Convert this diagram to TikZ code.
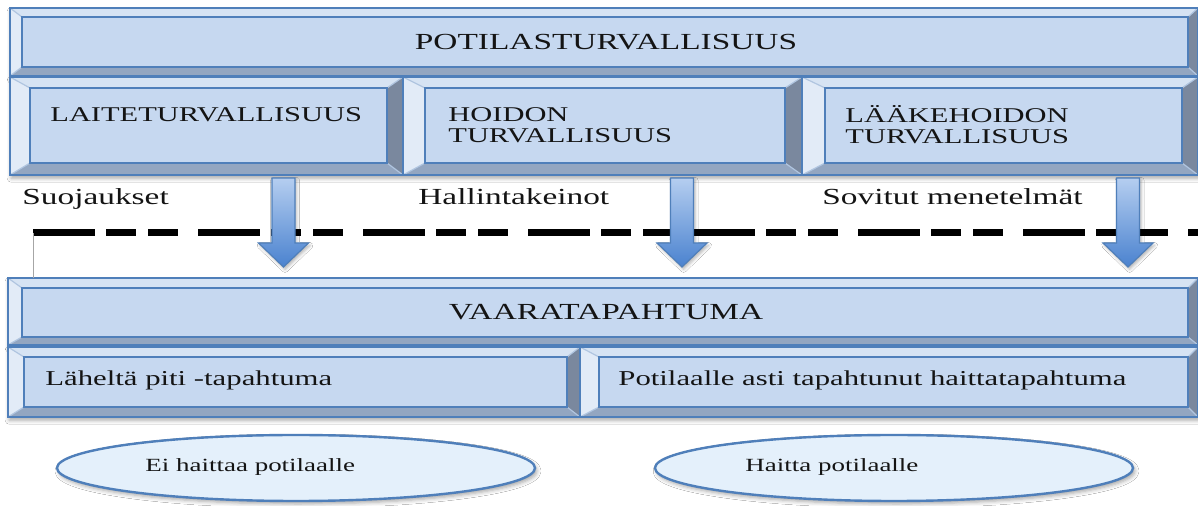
\documentclass[tikz,border=0pt]{standalone}
\usepackage{fontspec}
\setmainfont{Liberation Serif}[FakeStretch=1.45]
\usetikzlibrary{shapes.geometric,shadows.blur}
\definecolor{bvline}{HTML}{4F7FBA}
\definecolor{bvface}{HTML}{C6D8F0}
\definecolor{bvtop}{HTML}{D6E3F3}
\definecolor{bvleft}{HTML}{E2EBF7}
\definecolor{bvbot}{HTML}{93A6C1}
\definecolor{bvright}{HTML}{7A889E}
\definecolor{arrtop}{HTML}{B5CEF0}
\definecolor{arrbot}{HTML}{4A82CF}
\definecolor{ellfill}{HTML}{E4F0FB}
\definecolor{txt}{HTML}{141414}
\newcommand{\bevelshadow}[4]{%
  \path[fill=bvface,blur shadow={shadow xshift=0.6pt,shadow yshift=-1.6pt,shadow blur radius=2pt,shadow opacity=35}] (#1,#2) rectangle (#3,#4);
}
\newcommand{\bevelbox}[8]{%
  \fill[bvface] (#1+#5,#2+#6) rectangle (#3-#7,#4-#8);
  \fill[bvtop] (#1,#2) -- (#3,#2) -- (#3-#7,#2+#6) -- (#1+#5,#2+#6) -- cycle;
  \fill[bvbot] (#1,#4) -- (#3,#4) -- (#3-#7,#4-#8) -- (#1+#5,#4-#8) -- cycle;
  \fill[bvleft] (#1,#2) -- (#1+#5,#2+#6) -- (#1+#5,#4-#8) -- (#1,#4) -- cycle;
  \fill[bvright] (#3,#2) -- (#3-#7,#2+#6) -- (#3-#7,#4-#8) -- (#3,#4) -- cycle;
  \draw[white!55!bvline,line width=0.6pt] (#1,#2) -- (#1+#5,#2+#6) (#3,#2) -- (#3-#7,#2+#6)
     (#1,#4) -- (#1+#5,#4-#8) (#3,#4) -- (#3-#7,#4-#8);
  \draw[bvline,line width=1.3pt] (#1,#2) rectangle (#3,#4);
  \draw[bvline,line width=1.3pt] (#1+#5,#2+#6) rectangle (#3-#7,#4-#8);
}
\newcommand{\blockarrow}[2]{%
  \shade[top color=arrtop,bottom color=arrbot,draw=bvline,line width=0.6pt,
    blur shadow={shadow xshift=0.8pt,shadow yshift=-1.2pt,shadow blur radius=1.5pt,shadow opacity=30}]
    (#1-11.5,178) -- (#1+11.5,178) -- (#1+11.5,243) -- (#1+25,243) -- (#1,267)
    -- (#1-25,243) -- (#1-11.5,243) -- cycle;
  \coordinate (#2) at (#1,267);
}
\tikzset{
  txtbase/.style={inner sep=0pt,text=txt},
  title/.style={txtbase,font=\fontsize{11.5}{13}\selectfont,anchor=base},
  capt/.style={txtbase,font=\fontsize{10.5}{12}\selectfont,anchor=base west},
  lab/.style={txtbase,font=\fontsize{11.5}{13}\selectfont,anchor=base west},
  rowt/.style={txtbase,font=\fontsize{10.6}{13}\selectfont,anchor=base west},
  ell/.style={ellipse,draw=bvline,line width=1.2pt,fill=ellfill,minimum width=239pt,minimum height=33pt,
    blur shadow={shadow xshift=1pt,shadow yshift=-1.5pt,shadow blur radius=2pt,shadow opacity=35}},
  ellt/.style={txtbase,font=\fontsize{9.3}{11}\selectfont,anchor=base west},
}
\begin{document}
\begin{tikzpicture}[x=0.5pt,y=-0.5pt]
\useasboundingbox[fill=white] (0,0) rectangle (1198,506);
% shadows first
\bevelshadow{10}{8}{1198}{76}
\bevelshadow{10}{77}{1198}{175}
\bevelshadow{8}{278}{1198}{345}
\bevelshadow{8}{347}{1198}{417}
% top bar and three boxes
\bevelbox{10}{8}{1198}{76}{12}{9}{10}{9}
\bevelbox{10}{77}{403}{175}{20}{11}{16}{12}
\bevelbox{403}{77}{802}{175}{22}{11}{17}{12}
\bevelbox{802}{77}{1198}{175}{23}{11}{16}{12}
% lower bar and two boxes
\bevelbox{8}{278}{1198}{345}{14}{10}{10}{8}
\bevelbox{8}{347}{580}{417}{16}{10}{13}{10}
\bevelbox{580}{347}{1198}{417}{19}{10}{10}{10}
% texts
\node[title] (pot) at (606,49.5) {POTILASTURVALLISUUS};
\node[capt] (laite) at (50,122) {LAITETURVALLISUUS};
\node[capt] (hoi1) at (448,122) {HOIDON};
\node[capt] (hoi2) at (448,143) {TURVALLISUUS};
\node[capt] (laa1) at (845,123) {LÄÄKEHOIDON};
\node[capt] (laa2) at (845,144) {TURVALLISUUS};
\node[title] (vaara) at (606,320) {VAARATAPAHTUMA};
\node[rowt] (lahe) at (45,386) {Läheltä piti -tapahtuma};
\node[rowt] (potil) at (618,386) {Potilaalle asti tapahtunut haittatapahtuma};
% labels
\node[lab] (suo) at (22,205) {Suojaukset};
\node[lab] (hal) at (418,205) {Hallintakeinot};
\node[lab] (sov) at (822,205) {Sovitut menetelmät};
% dashed line and thin line
\coordinate (dl) at (33,233);
\coordinate (dr) at (1198,233);
\coordinate (tl) at (33,278);
\draw[line width=3.5pt,dash pattern=on 31pt off 5.5pt on 15pt off 6pt on 15pt off 10pt] (dl) -- (dr);
\draw[gray!70,line width=0.5pt] (dl) -- (tl);
% arrows
\blockarrow{283.5}{a1}
\blockarrow{682}{a2}
\blockarrow{1128}{a3}
% ellipses
\node[ell] (e1) at (296,468) {};
\node[ell] (e2) at (894,468) {};
\node[ellt] (e1t) at (145,472) {Ei haittaa potilaalle};
\node[ellt] (e2t) at (745,472) {Haitta potilaalle};
\end{tikzpicture}
\end{document}
